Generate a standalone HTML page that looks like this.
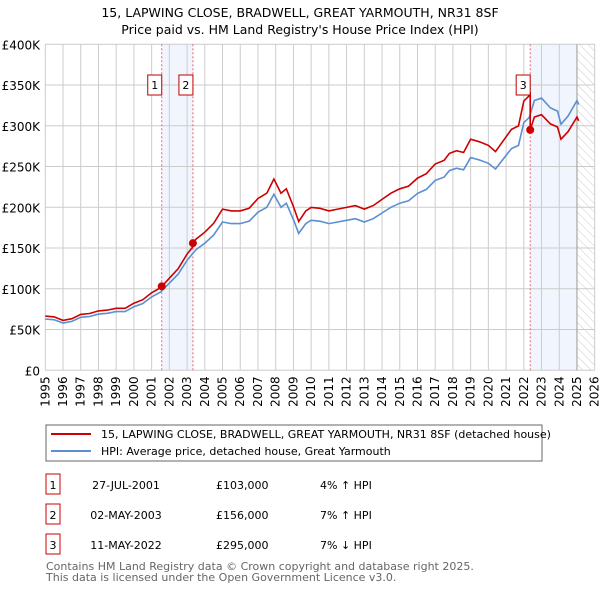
<!DOCTYPE html>
<html><head><meta charset="utf-8"><style>
body{margin:0;background:#fff;font-family:"Liberation Sans","DejaVu Sans",sans-serif;}
svg text{font-family:"DejaVu Sans","Liberation Sans",sans-serif;}
</style></head><body>
<svg id="c" width="600" height="590" viewBox="0 0 600 590" xmlns="http://www.w3.org/2000/svg">
<defs><pattern id="hatch" width="6" height="6" patternUnits="userSpaceOnUse" patternTransform="rotate(-45)"><line x1="0" y1="0" x2="0" y2="6" stroke="#ccc" stroke-width="1"/></pattern></defs>
<text x="300" y="17" text-anchor="middle" font-size="12.5" fill="#000">15, LAPWING CLOSE, BRADWELL, GREAT YARMOUTH, NR31 8SF</text>
<text x="300" y="34" text-anchor="middle" font-size="12.5" fill="#000">Price paid vs. HM Land Registry's House Price Index (HPI)</text>
<g id="plot"></g>
<rect x="46" y="425" width="496" height="36" fill="#fff" stroke="#666"/>
<line x1="51" y1="434" x2="91" y2="434" stroke="#cc0000" stroke-width="2"/>
<text x="101" y="438" font-size="11">15, LAPWING CLOSE, BRADWELL, GREAT YARMOUTH, NR31 8SF (detached house)</text>
<line x1="51" y1="451" x2="91" y2="451" stroke="#5b8fd0" stroke-width="2"/>
<text x="101" y="455" font-size="11">HPI: Average price, detached house, Great Yarmouth</text>
<g id="table" font-size="11"></g>
<text x="46" y="570" font-size="11" fill="#666">Contains HM Land Registry data © Crown copyright and database right 2025.</text>
<text x="46" y="581" font-size="11" fill="#666">This data is licensed under the Open Government Licence v3.0.</text>
</svg>
<script>
const hpiYears=[1995,1995.5,1996,1996.5,1997,1997.5,1998,1998.5,1999,1999.5,2000,2000.5,2001,2001.5,2002,2002.5,2003,2003.5,2004,2004.5,2005,2005.5,2006,2006.5,2007,2007.5,2007.9,2008.3,2008.6,2009,2009.3,2009.7,2010,2010.5,2011,2011.5,2012,2012.5,2013,2013.5,2014,2014.5,2015,2015.5,2016,2016.5,2017,2017.5,2017.8,2018.2,2018.6,2019,2019.5,2020,2020.4,2020.8,2021.3,2021.7,2022,2022.3,2022.6,2023,2023.5,2023.9,2024.1,2024.5,2025,2025.1];
const hpiValues=[63,62,58,60,65,66,69,70,72,72,78,82,90,96,107,118,135,148,156,166,182,180,180,183,194,200,216,200,205,185,168,180,184,183,180,182,184,186,182,186,193,200,205,208,217,222,233,237,245,248,246,261,258,254,247,258,272,276,304,310,331,334,322,318,302,312,331,326];
const saleYears=[2001.57,2003.33,2022.36];
const salePrices=[103,156,295];
const saleLabels=["1","2","3"];
const saleDates=["27-JUL-2001","02-MAY-2003","11-MAY-2022"];
const salePriceText=["£103,000","£156,000","£295,000"];
const saleHpiText=["4% ↑ HPI","7% ↑ HPI","7% ↓ HPI"];
const yTicks=[0,50,100,150,200,250,300,350,400];
const yTickLabels=["£0","£50K","£100K","£150K","£200K","£250K","£300K","£350K","£400K"];
const xTicks=[1995,1996,1997,1998,1999,2000,2001,2002,2003,2004,2005,2006,2007,2008,2009,2010,2011,2012,2013,2014,2015,2016,2017,2018,2019,2020,2021,2022,2023,2024,2025,2026];

const NS="http://www.w3.org/2000/svg";
const X0=45.3,X1=594.7,Y0=370.3,Y1=44.3;
const x=t=>X0+(t-1995)/(2026-1995)*(X1-X0);
const y=v=>Y0-(v/400)*(Y0-Y1);
const plot=document.getElementById('plot');
function mk(tag,attrs,parent){const e=document.createElementNS(NS,tag);for(const k in attrs)e.setAttribute(k,attrs[k]);(parent||plot).appendChild(e);return e;}
function hpiAt(t){for(let i=0;i<hpiYears.length-1;i++){if(t<=hpiYears[i+1]){const f=(t-hpiYears[i])/(hpiYears[i+1]-hpiYears[i]);return hpiValues[i]+f*(hpiValues[i+1]-hpiValues[i]);}}return hpiValues[hpiValues.length-1];}

// shaded spans
let s=mk('rect',{x:x(saleYears[0]),y:Y1,width:x(saleYears[1])-x(saleYears[0]),height:Y0-Y1,fill:'#eef3fc',opacity:0.8});


s=mk('rect',{x:x(saleYears[2]),y:Y1,width:x(2025)-x(saleYears[2]),height:Y0-Y1,fill:'#eef3fc',opacity:0.8});


s=mk('rect',{x:x(2025),y:Y1,width:X1-x(2025),height:Y0-Y1,fill:'url(#hatch)'});



// grid
yTicks.forEach((v,i)=>{
 const l=mk('line',{x1:X0,x2:X1,y1:y(v),y2:y(v),stroke:'#ccc','stroke-width':1});
 
 
 const t=mk('text',{x:40,y:y(v)+5,'text-anchor':'end','font-size':12});
 t.textContent=yTickLabels[i];
 
 
});
xTicks.forEach(yr=>{
 const l=mk('line',{x1:x(yr),x2:x(yr),y1:Y1,y2:Y0,stroke:'#ccc','stroke-width':1});
 
 
 const t=mk('text',{x:0,y:0,'text-anchor':'end','font-size':12,transform:`translate(${x(yr)+4},${Y0+6}) rotate(-90)`});
 t.textContent=yr;
 
 
});
const ed=mk('line',{x1:x(2025),x2:x(2025),y1:Y1,y2:Y0,stroke:'#999','stroke-width':1});



// sale vlines
saleYears.forEach((t,i)=>{
 const l=mk('line',{x1:x(t),x2:x(t),y1:Y1,y2:Y0,stroke:'#e66','stroke-width':1,'stroke-dasharray':'2,2'});
 
 
});

// HPI line
let d='';hpiYears.forEach((t,i)=>{d+=(i?'L':'M')+x(t).toFixed(1)+','+y(hpiValues[i]).toFixed(1);});
const hp=mk('path',{d:d,fill:'none',stroke:'#5b8fd0','stroke-width':1.6});



// property line
let pts=[];
const allT=hpiYears.concat(saleYears).sort((a,b)=>a-b);
allT.forEach(t=>{
 let k=0;for(let j=0;j<saleYears.length;j++)if(t>=saleYears[j])k=j;
 if(t>=saleYears[k]&&k>0&&t===saleYears[k]){ // step at sale
   const prevVal=salePrices[k-1]*hpiAt(t)/hpiAt(saleYears[k-1]);
   pts.push([t,prevVal]);
 }
 pts.push([t,salePrices[k]*hpiAt(t)/hpiAt(saleYears[k])]);
});
d='';pts.forEach((p,i)=>{d+=(i?'L':'M')+x(p[0]).toFixed(1)+','+y(p[1]).toFixed(1);});
const pp=mk('path',{d:d,fill:'none',stroke:'#cc0000','stroke-width':1.6});



// sale points and labels
saleYears.forEach((t,i)=>{
 const c=mk('circle',{cx:x(t),cy:y(salePrices[i]),r:4,fill:'#cc0000'});
 
 
 const bx=x(t)-6-(i<2? (i===0?-0:0):0);
 const g=mk('g',{});
 
 
 const lx=(i===0)?x(t)-4:(i===1?x(t)-4:x(t)-4);
 mk('rect',{x:lx-10,y:75,width:14,height:20,fill:'#fff',stroke:'#b00'},g);
 const tx=mk('text',{x:lx-3,y:89,'text-anchor':'middle','font-size':11},g);
 tx.textContent=saleLabels[i];
});

// table
const tb=document.getElementById('table');
const rowY=[485,515,545];
saleLabels.forEach((lab,i)=>{
 const g=mk('g',{},tb);
 
 
 mk('rect',{x:46,y:rowY[i]-11,width:14,height:20,fill:'#fff',stroke:'#cc0000'},g);
 let t=mk('text',{x:53,y:rowY[i]+4,'text-anchor':'middle'},g);t.textContent=lab;
 t=mk('text',{x:126,y:rowY[i]+4,'text-anchor':'middle'},g);t.textContent=saleDates[i];
 t=mk('text',{x:216,y:rowY[i]+4},g);t.textContent=salePriceText[i];
 t=mk('text',{x:320,y:rowY[i]+4},g);t.textContent=saleHpiText[i];
});
</script>
</body></html>
